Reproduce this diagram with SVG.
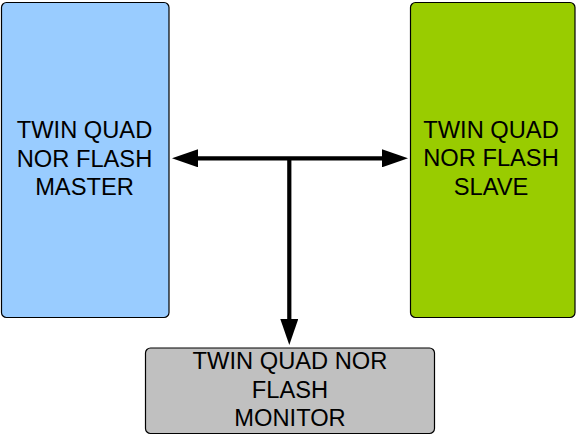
<svg xmlns="http://www.w3.org/2000/svg" width="576" height="435" viewBox="0 0 576 435">
<style>
.box{stroke:#000;stroke-width:1.2}
.lbl{font-family:"Liberation Sans",Arial,sans-serif;font-size:23.7px;fill:#000;text-anchor:middle}
.conn{stroke:#000;stroke-width:4.2;fill:none}
</style>
<defs>
<marker id="ah" viewBox="0 -9 27 18" markerWidth="27" markerHeight="18" refX="1" refY="0" orient="auto-start-reverse" markerUnits="userSpaceOnUse">
<path d="M0,-9 L26,0 L0,9 z" fill="#000"/>
</marker>
</defs>
<rect width="576" height="435" fill="#fff"/>
<g id="master">
<rect class="box" x="1.5" y="2.5" width="167.5" height="315" rx="5" fill="#99CCFF"/>
<text class="lbl" x="84.5" y="138">TWIN QUAD</text>
<text class="lbl" x="84.5" y="166.5">NOR FLASH</text>
<text class="lbl" x="84.5" y="195">MASTER</text>
</g>
<g id="slave">
<rect class="box" x="410.5" y="2.5" width="164.5" height="315" rx="5" fill="#99CC00"/>
<text class="lbl" x="491" y="137.5">TWIN QUAD</text>
<text class="lbl" x="491" y="166">NOR FLASH</text>
<text class="lbl" x="491" y="194.5">SLAVE</text>
</g>
<g id="monitor">
<rect class="box" x="145.5" y="348" width="289" height="85.5" rx="5" fill="#C0C0C0"/>
<text class="lbl" x="290" y="369">TWIN QUAD NOR</text>
<text class="lbl" x="290" y="397.5">FLASH</text>
<text class="lbl" x="290" y="426">MONITOR</text>
</g>
<g id="connectors">
<path class="conn" d="M197,158.3 L383,158.3" marker-start="url(#ah)" marker-end="url(#ah)"/>
<path class="conn" d="M289.3,158.3 L289.3,320" marker-end="url(#ah)"/>
</g>
</svg>
